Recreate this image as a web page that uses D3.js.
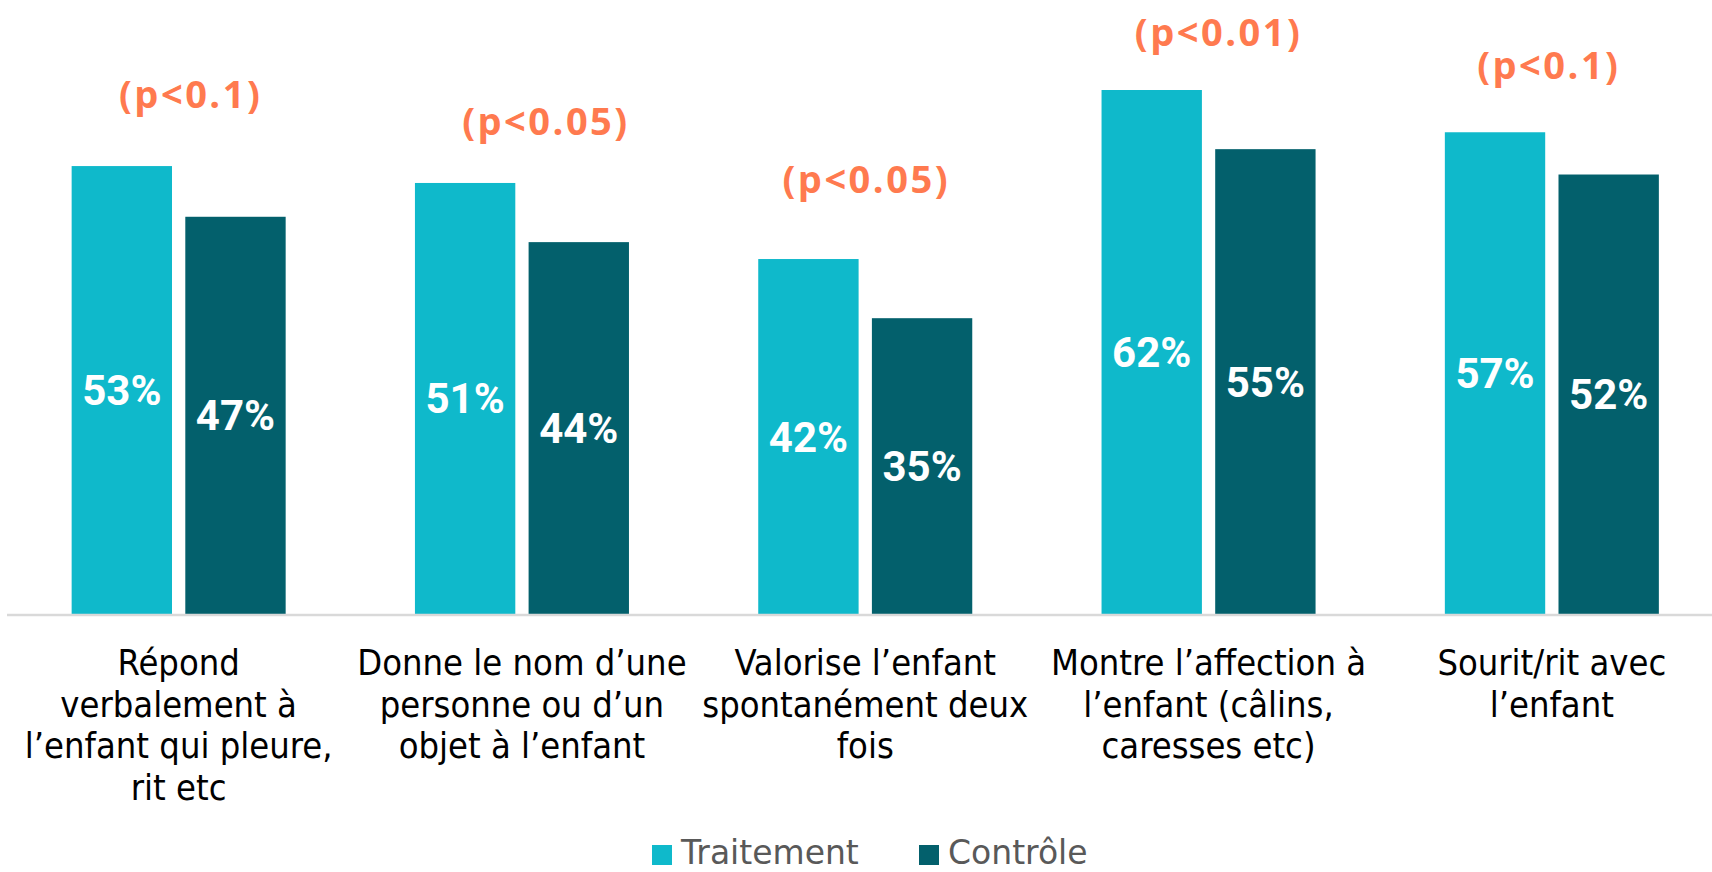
<!DOCTYPE html>
<html>
<head>
<meta charset="utf-8">
<script src="https://cdn.jsdelivr.net/npm/d3@7"></script>
<style>
  html, body { margin: 0; padding: 0; background: #ffffff; }
  svg { display: block; }
</style>
</head>
<body>
<svg id="chart"></svg>
<script>
// data
const categories = [
  ["Répond", "verbalement à", "l’enfant qui pleure,", "rit etc"],
  ["Donne le nom d’une", "personne ou d’un", "objet à l’enfant"],
  ["Valorise l’enfant", "spontanément deux", "fois"],
  ["Montre l’affection à", "l’enfant (câlins,", "caresses etc)"],
  ["Sourit/rit avec", "l’enfant"]
];
const seriesNames = ["Traitement", "Contrôle"];
const traitement = [53, 51, 42, 62, 57];
const controle = [47, 44, 35, 55, 52];
const pLabels = ["(p<0.1)", "(p<0.05)", "(p<0.05)", "(p<0.01)", "(p<0.1)"];

// where the significance labels sit (value level, horizontal nudge)
const pLevel = [59.9, 56.7, 49.8, 67.2, 63.3];
const pDx = [12, 24, 1, 10, -3];

const width = 1712, height = 872;
const colors = { "Traitement": "#0fb9cb", "Contrôle": "#03606c" };

const svg = d3.select("#chart").attr("width", width).attr("height", height);

// 1. scales
const groups = d3.range(categories.length);
const x0 = d3.scaleBand()
  .domain(groups)
  .range([7, 1723.5])
  .paddingInner(0.3766)
  .paddingOuter(0.1883);

const x1 = d3.scaleBand()
  .domain(seriesNames)
  .range([0, x0.bandwidth()])
  .paddingInner(0.117);

const y = d3.scaleLinear().domain([0, 70]).range([614, 614 - 70 * 8.4516]);

const rows = groups.map(i => ({
  i: i,
  values: [
    { key: "Traitement", value: traitement[i] },
    { key: "Contrôle", value: controle[i] }
  ]
}));

// 2. bars
const g = svg.selectAll("g.group")
  .data(rows)
  .join("g")
  .attr("class", "group")
  .attr("transform", d => `translate(${x0(d.i)},0)`);

g.selectAll("rect")
  .data(d => d.values)
  .join("rect")
  .attr("x", d => x1(d.key))
  .attr("y", d => y(d.value))
  .attr("width", x1.bandwidth())
  .attr("height", d => y(0) - y(d.value))
  .attr("fill", d => colors[d.key]);

// value labels in the middle of each bar
g.selectAll("text.val")
  .data(d => d.values)
  .join("text")
  .attr("class", "val")
  .attr("x", d => x1(d.key) + x1.bandwidth() / 2)
  .attr("y", d => (y(d.value) + y(0)) / 2 + 15)
  .attr("text-anchor", "middle")
  .style("font-family", "Roboto, sans-serif")
  .style("font-weight", "bold")
  .style("font-size", "42px")
  .style("fill", "#ffffff")
  .text(d => d.value + "%");

// 3. axis line and category labels
const xAxis = d3.axisBottom(x0).tickSize(0).tickFormat("");
const axisG = svg.append("g")
  .attr("transform", `translate(0,${y(0) + 1})`)
  .call(xAxis);
axisG.select(".domain")
  .attr("d", `M7,0H${width}`)
  .attr("stroke", "#d9d9d9")
  .attr("stroke-width", 2.5);

const labelG = svg.append("g");
groups.forEach(i => {
  const t = labelG.append("text")
    .attr("x", x0(i) + x0.bandwidth() / 2)
    .attr("y", 675)
    .attr("text-anchor", "middle")
    .style("font-family", "'DejaVu Sans Condensed', 'DejaVu Sans', sans-serif")
    .style("font-size", "36px")
    .style("fill", "#000000");
  categories[i].forEach((line, k) => {
    t.append("tspan")
      .attr("x", x0(i) + x0.bandwidth() / 2)
      .attr("y", 675 + k * 41.5)
      .text(line);
  });
});

// 4. significance labels
svg.selectAll("text.p")
  .data(groups)
  .join("text")
  .attr("class", "p")
  .attr("x", i => x0(i) + x0.bandwidth() / 2 + pDx[i])
  .attr("y", i => y(pLevel[i]))
  .attr("text-anchor", "middle")
  .style("font-family", "'Open Sans', sans-serif")
  .style("font-weight", "bold")
  .style("font-size", "38px")
  .style("letter-spacing", "2.5px")
  .style("fill", "#ff7a4f")
  .text(i => pLabels[i]);

// 5. legend
const legendX = [652, 919];
const legend = svg.selectAll("g.legend")
  .data(seriesNames)
  .join("g")
  .attr("class", "legend")
  .attr("transform", (d, k) => `translate(${legendX[k]},845)`);

legend.append("rect")
  .attr("width", 20)
  .attr("height", 20)
  .attr("fill", d => colors[d]);

legend.append("text")
  .attr("x", 29)
  .attr("y", 19)
  .style("font-family", "'DejaVu Sans', sans-serif")
  .style("font-size", "33px")
  .style("fill", "#595959")
  .text(d => d);
</script>
</body>
</html>
